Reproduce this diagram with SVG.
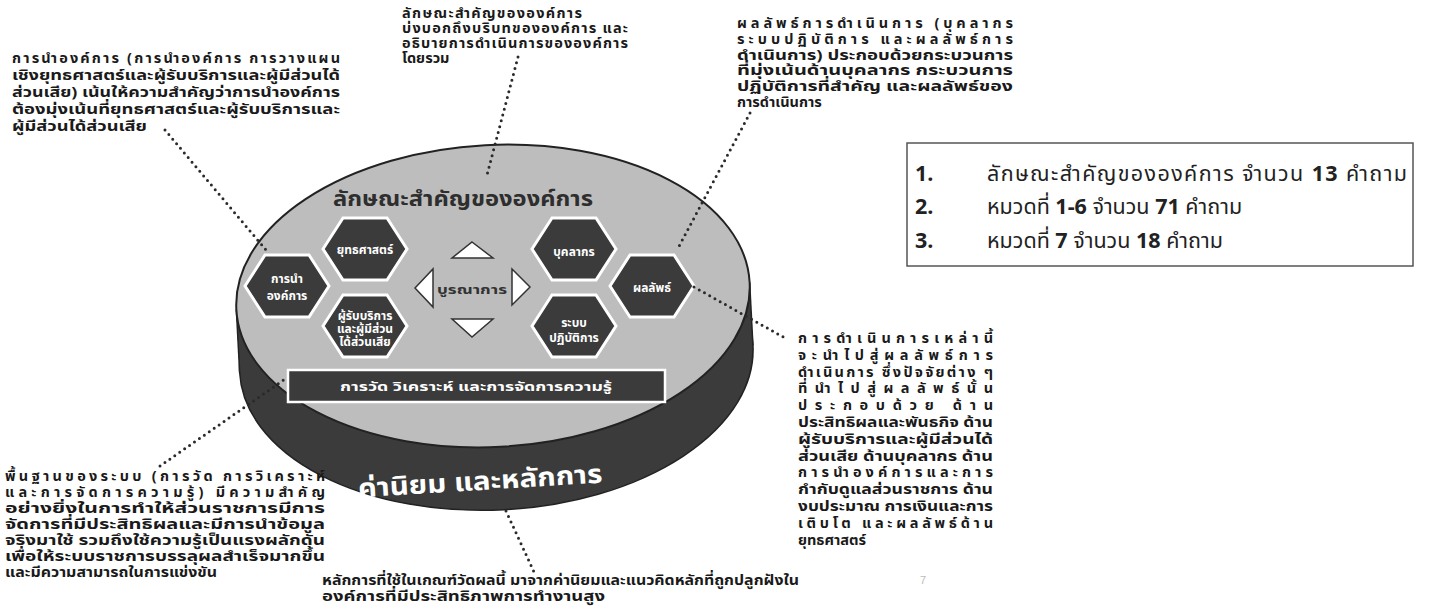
<svg xmlns="http://www.w3.org/2000/svg" width="1435" height="611" viewBox="0 0 1435 611">
<style>
.ann{font-family:'Noto Sans Thai','Noto Sans','Liberation Sans',sans-serif;font-weight:700;font-size:14.5px;fill:#1a1a1a}
.box{font-family:'Noto Sans Thai','Noto Sans','Liberation Sans',sans-serif;font-size:21.5px;fill:#222}
.num{font-weight:700}
.hex{fill:#3b3b3b;stroke:#fff;stroke-width:3}
.hext{font-family:'Noto Sans Thai','Noto Sans','Liberation Sans',sans-serif;fill:#fff;font-weight:700;font-size:12px;text-anchor:middle}
.dot{fill:none;stroke:#2a2a2a;stroke-width:3;stroke-linecap:round;stroke-dasharray:0 6}
.tri{fill:#fff;stroke:#333;stroke-width:1.5}
</style>
<rect width="1435" height="611" fill="#fff"/>
<g id="disk">
<g transform="rotate(-3 493 296)">
<ellipse cx="493" cy="359" rx="257" ry="151" fill="#3b3b3b" stroke="#222" stroke-width="1.5"/>
<rect x="236" y="296" width="514" height="63" fill="#3b3b3b"/>
<line x1="236" y1="296" x2="236" y2="359" stroke="#222" stroke-width="1.5"/>
<line x1="750" y1="296" x2="750" y2="359" stroke="#222" stroke-width="1.5"/>
<ellipse cx="493" cy="296" rx="257" ry="151" fill="#bdbdbd" stroke="#222" stroke-width="2"/>
</g>
<text x="463" y="206" text-anchor="middle" font-family="'Noto Sans Thai','Noto Sans','Liberation Sans',sans-serif" font-weight="700" font-size="22" fill="#2e2e2e" textLength="260" lengthAdjust="spacingAndGlyphs">ลักษณะสำคัญขององค์การ</text>
<text x="480" y="490" text-anchor="middle" transform="rotate(-3.5 480 482)" font-family="'Noto Sans Thai','Noto Sans','Liberation Sans',sans-serif" font-weight="700" font-size="26" fill="#fff" textLength="245" lengthAdjust="spacingAndGlyphs">ค่านิยม และหลักการ</text>
</g>
<g id="bar">
<rect x="288" y="370" width="377" height="32" fill="#3b3b3b" stroke="#fff" stroke-width="2.5"/>
<text x="476" y="391" text-anchor="middle" font-family="'Noto Sans Thai','Noto Sans','Liberation Sans',sans-serif" font-weight="700" font-size="13" fill="#fff" textLength="272" lengthAdjust="spacingAndGlyphs">การวัด วิเคราะห์ และการจัดการความรู้</text>
</g>
<g id="hex-lead" transform="translate(287 286)">
<polygon class="hex" points="-42,0 -22,-31 22,-31 42,0 22,31 -22,31"/>
<text class="hext" y="-3" font-size="13">การนำ</text>
<text class="hext" y="14" font-size="13">องค์การ</text>
</g>
<g id="hex-strategy" transform="translate(365 249)">
<polygon class="hex" points="-42,0 -22,-31 22,-31 42,0 22,31 -22,31"/>
<text class="hext" y="5">ยุทธศาสตร์</text>
</g>
<g id="hex-customer" transform="translate(365 326)">
<polygon class="hex" points="-42,0 -22,-31 22,-31 42,0 22,31 -22,31"/>
<text class="hext" y="-6" font-size="10">ผู้รับบริการ</text>
<text class="hext" y="7" font-size="10">และผู้มีส่วน</text>
<text class="hext" y="20" font-size="10">ได้ส่วนเสีย</text>
</g>
<g id="hex-workforce" transform="translate(574 249)">
<polygon class="hex" points="-42,0 -22,-31 22,-31 42,0 22,31 -22,31"/>
<text class="hext" y="7">บุคลากร</text>
</g>
<g id="hex-operations" transform="translate(574 326)">
<polygon class="hex" points="-42,0 -22,-31 22,-31 42,0 22,31 -22,31"/>
<text class="hext" y="1">ระบบ</text>
<text class="hext" y="16">ปฏิบัติการ</text>
</g>
<g id="hex-results" transform="translate(652 286)">
<polygon class="hex" points="-42,0 -22,-31 22,-31 42,0 22,31 -22,31"/>
<text class="hext" y="6">ผลลัพธ์</text>
</g>
<g id="integration">
<polygon class="tri" points="472,242 493,258 452,258"/>
<polygon class="tri" points="452,319 493,319 472,337"/>
<polygon class="tri" points="415,288 433,269 433,307"/>
<polygon class="tri" points="530,287 512,269 512,305"/>
<text x="472" y="294" text-anchor="middle" font-family="'Noto Sans Thai','Noto Sans','Liberation Sans',sans-serif" font-weight="700" font-size="12" fill="#333" textLength="70" lengthAdjust="spacingAndGlyphs">บูรณาการ</text>
</g>
<g id="connectors">
<line class="dot" x1="165" y1="130" x2="266" y2="250"/>
<line class="dot" x1="518" y1="57" x2="487" y2="175"/>
<line class="dot" x1="750" y1="113" x2="677" y2="250"/>
<line class="dot" x1="694" y1="287" x2="785" y2="338"/>
<line class="dot" x1="160" y1="466" x2="288" y2="377"/>
<line class="dot" x1="506" y1="511" x2="534" y2="572"/>
</g>
<g id="note-leadership" class="ann">
<text x="12" y="63" textLength="328" lengthAdjust="spacing">การนำองค์การ (การนำองค์การ การวางแผน</text>
<text x="12" y="80" textLength="328" lengthAdjust="spacingAndGlyphs">เชิงยุทธศาสตร์และผู้รับบริการและผู้มีส่วนได้</text>
<text x="12" y="97" textLength="328" lengthAdjust="spacingAndGlyphs">ส่วนเสีย) เน้นให้ความสำคัญว่าการนำองค์การ</text>
<text x="12" y="114" textLength="328" lengthAdjust="spacingAndGlyphs">ต้องมุ่งเน้นที่ยุทธศาสตร์และผู้รับบริการและ</text>
<text x="12" y="131" textLength="135" lengthAdjust="spacingAndGlyphs">ผู้มีส่วนได้ส่วนเสีย</text>
</g>
<g id="note-profile" class="ann">
<text x="402" y="18" textLength="180" lengthAdjust="spacing">ลักษณะสำคัญขององค์การ</text>
<text x="402" y="33" textLength="226" lengthAdjust="spacing">บ่งบอกถึงบริบทขององค์การ และ</text>
<text x="402" y="48" textLength="226" lengthAdjust="spacing">อธิบายการดำเนินการขององค์การ</text>
<text x="402" y="63">โดยรวม</text>
</g>
<g id="note-results" class="ann">
<text x="737" y="28" textLength="276" lengthAdjust="spacing">ผลลัพธ์การดำเนินการ (บุคลากร</text>
<text x="737" y="44" textLength="276" lengthAdjust="spacing">ระบบปฏิบัติการ และผลลัพธ์การ</text>
<text x="737" y="60" textLength="276" lengthAdjust="spacingAndGlyphs">ดำเนินการ) ประกอบด้วยกระบวนการ</text>
<text x="737" y="75" textLength="276" lengthAdjust="spacingAndGlyphs">ที่มุ่งเน้นด้านบุคลากร กระบวนการ</text>
<text x="737" y="91" textLength="276" lengthAdjust="spacingAndGlyphs">ปฏิบัติการที่สำคัญ และผลลัพธ์ของ</text>
<text x="737" y="107">การดำเนินการ</text>
</g>
<g id="note-outcomes" class="ann">
<text x="798" y="343" textLength="195" lengthAdjust="spacing">การดำเนินการเหล่านี้</text>
<text x="798" y="359.8" textLength="195" lengthAdjust="spacing">จะนำไปสู่ผลลัพธ์การ</text>
<text x="798" y="376.6" textLength="195" lengthAdjust="spacing">ดำเนินการ ซึ่งปัจจัยต่าง ๆ</text>
<text x="798" y="393.4" textLength="195" lengthAdjust="spacing">ที่นำไปสู่ผลลัพธ์นั้น</text>
<text x="798" y="410.2" textLength="195" lengthAdjust="spacing">ประกอบด้วย ด้าน</text>
<text x="798" y="427" textLength="195" lengthAdjust="spacingAndGlyphs">ประสิทธิผลและพันธกิจ ด้าน</text>
<text x="798" y="443.8" textLength="195" lengthAdjust="spacingAndGlyphs">ผู้รับบริการและผู้มีส่วนได้</text>
<text x="798" y="460.6" textLength="195" lengthAdjust="spacingAndGlyphs">ส่วนเสีย ด้านบุคลากร ด้าน</text>
<text x="798" y="477.4" textLength="195" lengthAdjust="spacing">การนำองค์การและการ</text>
<text x="798" y="494.2" textLength="195" lengthAdjust="spacingAndGlyphs">กำกับดูแลส่วนราชการ ด้าน</text>
<text x="798" y="511" textLength="195" lengthAdjust="spacingAndGlyphs">งบประมาณ การเงินและการ</text>
<text x="798" y="527.8" textLength="195" lengthAdjust="spacing">เติบโต และผลลัพธ์ด้าน</text>
<text x="798" y="544.6">ยุทธศาสตร์</text>
</g>
<g id="note-foundation" class="ann">
<text x="5" y="481" textLength="320" lengthAdjust="spacing">พื้นฐานของระบบ (การวัด การวิเคราะห์</text>
<text x="5" y="497" textLength="320" lengthAdjust="spacing">และการจัดการความรู้) มีความสำคัญ</text>
<text x="5" y="513" textLength="320" lengthAdjust="spacingAndGlyphs">อย่างยิ่งในการทำให้ส่วนราชการมีการ</text>
<text x="5" y="529" textLength="320" lengthAdjust="spacingAndGlyphs">จัดการที่มีประสิทธิผลและมีการนำข้อมูล</text>
<text x="5" y="545" textLength="320" lengthAdjust="spacingAndGlyphs">จริงมาใช้ รวมถึงใช้ความรู้เป็นแรงผลักดัน</text>
<text x="5" y="561" textLength="320" lengthAdjust="spacingAndGlyphs">เพื่อให้ระบบราชการบรรลุผลสำเร็จมากขึ้น</text>
<text x="5" y="577" textLength="212" lengthAdjust="spacingAndGlyphs">และมีความสามารถในการแข่งขัน</text>
</g>
<g id="note-values" class="ann">
<text x="322" y="585" textLength="477" lengthAdjust="spacingAndGlyphs">หลักการที่ใช้ในเกณฑ์วัดผลนี้ มาจากค่านิยมและแนวคิดหลักที่ถูกปลูกฝังใน</text>
<text x="322" y="601" textLength="283" lengthAdjust="spacingAndGlyphs">องค์การที่มีประสิทธิภาพการทำงานสูง</text>
</g>
<g id="summary-box">
<rect x="907" y="143" width="506" height="123" fill="#fff" stroke="#555" stroke-width="1.5"/>
<text class="box num" x="915" y="181">1.</text>
<text class="box" x="987" y="181" textLength="420" lengthAdjust="spacing">ลักษณะสำคัญขององค์การ จำนวน <tspan class="num">13</tspan> คำถาม</text>
<text class="box num" x="915" y="214">2.</text>
<text class="box" x="987" y="214">หมวดที่ <tspan class="num">1-6</tspan> จำนวน <tspan class="num">71</tspan> คำถาม</text>
<text class="box num" x="915" y="248">3.</text>
<text class="box" x="987" y="248">หมวดที่ <tspan class="num">7</tspan> จำนวน <tspan class="num">18</tspan> คำถาม</text>
</g>
<text x="920" y="584" font-family="'Liberation Sans',sans-serif" font-size="11" fill="#bbb">7</text>
</svg>
